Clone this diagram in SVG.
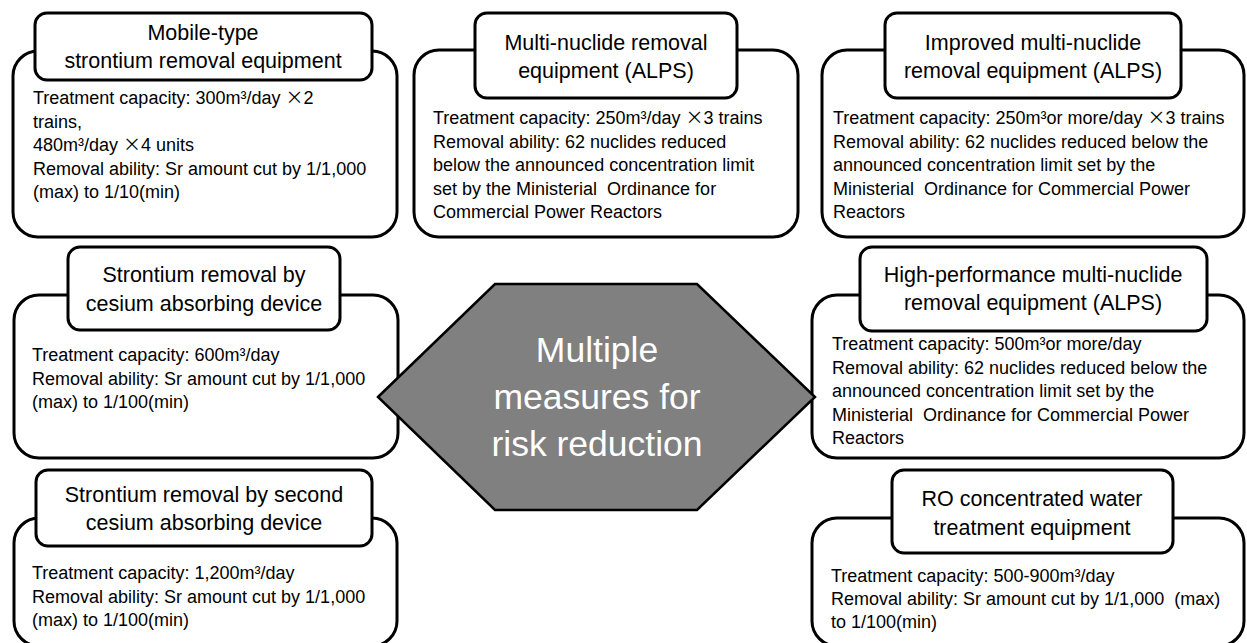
<svg xmlns="http://www.w3.org/2000/svg" width="1247" height="643" viewBox="0 0 1247 643">
<style>
.outer{fill:#fff;stroke:#000;stroke-width:3}
.label{fill:#fff;stroke:#000;stroke-width:3}
.lt{font-family:"Liberation Sans",Arial,sans-serif;font-size:21.5px;text-anchor:middle;fill:#000}
.bt{font-family:"Liberation Sans",Arial,sans-serif;font-size:18px;fill:#000;white-space:pre}
.x{font-family:"Noto Sans CJK JP","Liberation Sans",sans-serif}
.hex{fill:#808080;stroke:#000;stroke-width:2.5}
.ht{font-family:"Liberation Sans",Arial,sans-serif;font-size:35.5px;text-anchor:middle;fill:#fff}
</style>
<rect width="1247" height="643" fill="#fff"/>
<g id="node-mobile">
<rect class="outer" x="13" y="51" width="384" height="186" rx="25"/>
<rect class="label" x="35" y="13" width="337" height="67" rx="12"/>
<text class="lt" x="203" y="40">Mobile-type</text>
<text class="lt" x="203" y="68">strontium removal equipment</text>
<text class="bt" x="33" y="104">Treatment capacity: 300m³/day <tspan class="x">×</tspan>2</text>
<text class="bt" x="33" y="127.5">trains,</text>
<text class="bt" x="33" y="151">480m³/day <tspan class="x">×</tspan>4 units</text>
<text class="bt" x="33" y="174.5">Removal ability: Sr amount cut by 1/1,000</text>
<text class="bt" x="33" y="198">(max) to 1/10(min)</text>
</g>
<g id="node-alps">
<rect class="outer" x="414" y="50" width="384" height="187" rx="25"/>
<rect class="label" x="475" y="13" width="262" height="85" rx="12"/>
<text class="lt" x="606" y="50">Multi-nuclide removal</text>
<text class="lt" x="606" y="78">equipment (ALPS)</text>
<text class="bt" x="433" y="124">Treatment capacity: 250m³/day <tspan class="x">×</tspan>3 trains</text>
<text class="bt" x="433" y="147.5">Removal ability: 62 nuclides reduced</text>
<text class="bt" x="433" y="171">below the announced concentration limit</text>
<text class="bt" x="433" y="194.5">set by the Ministerial  Ordinance for</text>
<text class="bt" x="433" y="218">Commercial Power Reactors</text>
</g>
<g id="node-improved-alps">
<rect class="outer" x="822" y="50" width="422" height="187" rx="25"/>
<rect class="label" x="885" y="13" width="296" height="85" rx="12"/>
<text class="lt" x="1033" y="50">Improved multi-nuclide</text>
<text class="lt" x="1033" y="78">removal equipment (ALPS)</text>
<text class="bt" x="833" y="124">Treatment capacity: 250m³or more/day <tspan class="x">×</tspan>3 trains</text>
<text class="bt" x="833" y="147.5">Removal ability: 62 nuclides reduced below the</text>
<text class="bt" x="833" y="171">announced concentration limit set by the</text>
<text class="bt" x="833" y="194.5">Ministerial  Ordinance for Commercial Power</text>
<text class="bt" x="833" y="218">Reactors</text>
</g>
<g id="node-cesium">
<rect class="outer" x="14" y="295" width="384" height="163" rx="25"/>
<rect class="label" x="68" y="247" width="272" height="83" rx="12"/>
<text class="lt" x="204" y="282">Strontium removal by</text>
<text class="lt" x="204" y="311">cesium absorbing device</text>
<text class="bt" x="32" y="361">Treatment capacity: 600m³/day</text>
<text class="bt" x="32" y="384.5">Removal ability: Sr amount cut by 1/1,000</text>
<text class="bt" x="32" y="408">(max) to 1/100(min)</text>
</g>
<g id="node-high-performance-alps">
<rect class="outer" x="812" y="295" width="432" height="163" rx="25"/>
<rect class="label" x="860" y="247" width="347" height="84" rx="12"/>
<text class="lt" x="1033" y="282">High-performance multi-nuclide</text>
<text class="lt" x="1033" y="310">removal equipment (ALPS)</text>
<text class="bt" x="832" y="350">Treatment capacity: 500m³or more/day</text>
<text class="bt" x="832" y="373.5">Removal ability: 62 nuclides reduced below the</text>
<text class="bt" x="832" y="397">announced concentration limit set by the</text>
<text class="bt" x="832" y="420.5">Ministerial  Ordinance for Commercial Power</text>
<text class="bt" x="832" y="444">Reactors</text>
</g>
<g id="node-second-cesium">
<rect class="outer" x="14" y="518" width="383" height="128" rx="25"/>
<rect class="label" x="36" y="470" width="336" height="76" rx="12"/>
<text class="lt" x="204" y="502">Strontium removal by second</text>
<text class="lt" x="204" y="530">cesium absorbing device</text>
<text class="bt" x="32" y="579">Treatment capacity: 1,200m³/day</text>
<text class="bt" x="32" y="602.5">Removal ability: Sr amount cut by 1/1,000</text>
<text class="bt" x="32" y="626">(max) to 1/100(min)</text>
</g>
<g id="node-ro">
<rect class="outer" x="812" y="518" width="432" height="128" rx="25"/>
<rect class="label" x="892" y="470" width="281" height="83" rx="12"/>
<text class="lt" x="1032" y="506">RO concentrated water</text>
<text class="lt" x="1032" y="535">treatment equipment</text>
<text class="bt" x="831" y="582">Treatment capacity: 500-900m³/day</text>
<text class="bt" x="831" y="605">Removal ability: Sr amount cut by 1/1,000  (max)</text>
<text class="bt" x="831" y="628">to 1/100(min)</text>
</g>
<g id="node-center">
<polygon class="hex" points="378,397 495,284 697,284 815,397 697,510 495,510"/>
<text class="ht" x="597" y="362">Multiple</text>
<text class="ht" x="597" y="409">measures for</text>
<text class="ht" x="597" y="456">risk reduction</text>
</g>
<g id="connectors"/>
</svg>
